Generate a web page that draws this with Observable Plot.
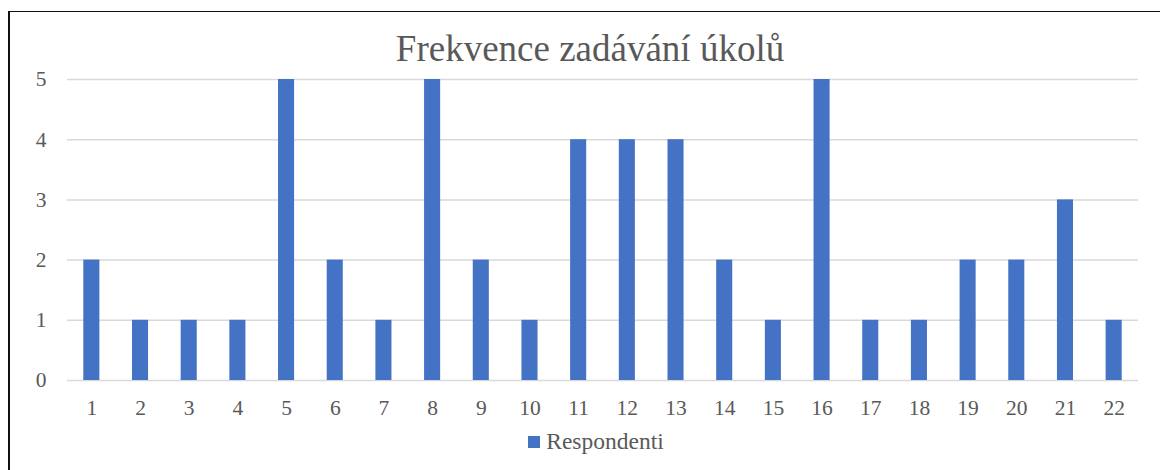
<!DOCTYPE html>
<html>
<head>
<meta charset="utf-8">
<script src="https://cdn.jsdelivr.net/npm/d3@7"></script>
<script src="https://cdn.jsdelivr.net/npm/@observablehq/plot@0.6"></script>
<style>
  html, body { margin: 0; padding: 0; background: #fff; overflow: hidden; }
  #wrap { position: relative; width: 1160px; height: 470px; overflow: hidden; font-family: "Liberation Serif", "Times New Roman", serif; }
  #frame { position: absolute; left: 8px; top: 11px; width: 1300px; height: 600px; border-left: 2px solid #111; border-top: 1.5px solid #111; }
  #title { position: absolute; left: 0; width: 1180px; top: 27px; text-align: center; font-family: "Liberation Serif", serif; font-size: 37px; line-height: 44px; color: #595959; }
  #chart { position: absolute; left: 0; top: 0; }
  #leg { position: absolute; left: 0; width: 1192px; top: 425px; display: flex; justify-content: center; }
  #leg * { font-family: "Liberation Serif", serif !important; }
  #leg [class$="-swatch"] { margin-right: 0 !important; }
  #leg [class$="-swatch"] > svg { margin-right: 6px !important; }
</style>
</head>
<body>
<div id="wrap">
  <div id="frame"></div>
  <div id="chart"></div>
  <div id="title">Frekvence zadávání úkolů</div>
  <div id="leg"></div>
</div>
<script>
const categories = ["1","2","3","4","5","6","7","8","9","10","11","12","13","14","15","16","17","18","19","20","21","22"];
const respondenti = [2,1,1,1,5,2,1,5,2,1,4,4,4,2,1,5,1,1,2,2,3,1];
const yTicks = [0,1,2,3,4,5];
const seriesName = "Respondenti";

const data = categories.map((c, i) => ({cat: c, value: respondenti[i], series: seriesName}));

const chart = Plot.plot({
  width: 1160,
  height: 470,
  marginLeft: 67,
  marginRight: 22,
  marginTop: 79,
  marginBottom: 90,
  style: {fontFamily: '"Liberation Serif", "Times New Roman", serif', fontSize: "21.5px", color: "#595959", background: "transparent"},
  x: {domain: categories, paddingInner: 0.67, paddingOuter: 0.335, round: false, label: null},
  y: {domain: [0, 5], label: null},
  color: {domain: [seriesName], range: ["#4472C4"]},
  marks: [
    Plot.gridY(yTicks, {stroke: "#d9d9d9", strokeOpacity: 1, strokeWidth: 1.5}),
    Plot.barY(data, {x: "cat", y: "value", fill: "series"}),
    Plot.axisX({tickSize: 0, tickPadding: 19, label: null, fill: "#595959"}),
    Plot.axisY(yTicks, {tickSize: 0, tickPadding: 21, tickFormat: d3.format("d"), label: null, fill: "#595959"})
  ]
});
document.getElementById("chart").appendChild(chart);

const legend = chart.legend("color", {
  swatchSize: 12,
  style: {fontFamily: '"Liberation Serif", serif', fontSize: "23.5px", color: "#595959", background: "transparent", margin: "0"}
});
document.getElementById("leg").appendChild(legend);
</script>
</body>
</html>
